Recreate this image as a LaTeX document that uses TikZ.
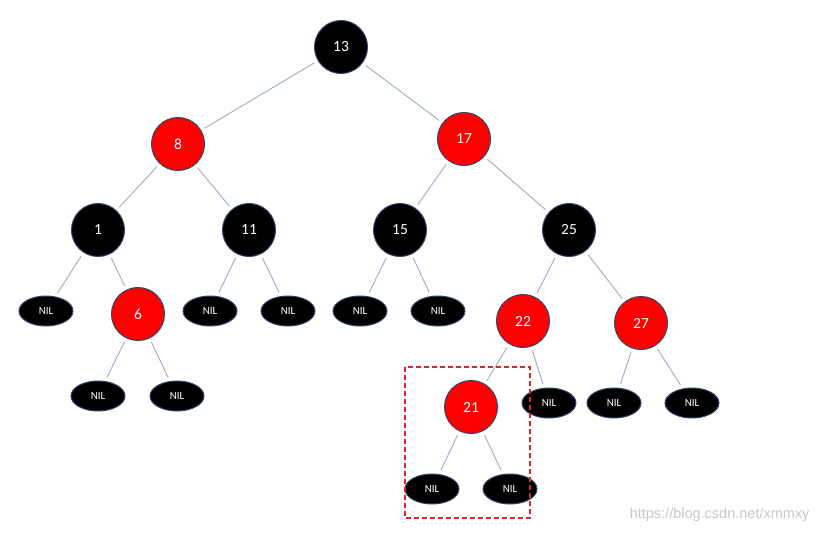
\documentclass[tikz,border=0pt]{standalone}
\usepackage{fontspec}
\setmainfont{Carlito}
\newfontfamily\wmfont{Liberation Sans}
\usetikzlibrary{shapes.geometric}
\definecolor{edgec}{HTML}{A3B2C8}
\definecolor{rimc}{HTML}{34456A}
\definecolor{redc}{HTML}{FF0000}
\definecolor{boxc}{HTML}{D9262B}
\begin{document}
\begin{tikzpicture}[x=1pt,y=-1pt,
  blk/.style={circle,fill=black,draw=rimc,line width=1pt,minimum size=53pt,inner sep=0pt,text=white,font=\fontsize{15.5}{15.5}\selectfont},
  rd/.style={circle,fill=redc,draw=rimc,line width=1pt,minimum size=53pt,inner sep=0pt,text=white,font=\fontsize{15.5}{15.5}\selectfont},
  nil/.style={ellipse,fill=black,draw=rimc,line width=1pt,minimum width=54pt,minimum height=30pt,inner sep=0pt,text=white,font=\fontsize{11}{11}\selectfont},
  edge/.style={draw=edgec,line width=1pt,shorten <=4pt,shorten >=4pt}]
\useasboundingbox (0,0) rectangle (822,533);
\node[blk] (n13) at (341,47) {13};
\node[rd]  (n8)  at (178,144) {8};
\node[rd]  (n17) at (464,139) {17};
\node[blk] (n1)  at (98,230) {1};
\node[blk] (n11) at (249,230) {11};
\node[blk] (n15) at (400,230) {15};
\node[blk] (n25) at (569,230) {25};
\node[nil] (a1) at (46,311) {NIL};
\node[rd]  (n6) at (138,314) {6};
\node[nil] (a2) at (210,311) {NIL};
\node[nil] (a3) at (288,311) {NIL};
\node[nil] (a4) at (360,311) {NIL};
\node[nil] (a5) at (438,311) {NIL};
\node[rd]  (n22) at (523,321) {22};
\node[rd]  (n27) at (641,323) {27};
\node[nil] (a6) at (98,396) {NIL};
\node[nil] (a7) at (177,396) {NIL};
\node[rd]  (n21) at (471,407) {21};
\node[nil] (a8) at (549,403) {NIL};
\node[nil] (a9) at (614,403) {NIL};
\node[nil] (a10) at (692,403) {NIL};
\node[nil] (a11) at (432,489) {NIL};
\node[nil] (a12) at (510,489) {NIL};
\foreach \p/\c in {n13/n8,n13/n17,n8/n1,n8/n11,n17/n15,n17/n25,n1/a1,n1/n6,n11/a2,n11/a3,n15/a4,n15/a5,n25/n22,n25/n27,n6/a6,n6/a7,n22/n21,n22/a8,n27/a9,n27/a10,n21/a11,n21/a12}
  \path[edge] (\p) -- (\c);
\coordinate (b1) at (405,367);
\coordinate (b2) at (530,518);
\draw[boxc,line width=1.4pt,dash pattern=on 5pt off 3pt] (b1) rectangle (b2);
\node[text=black!22,font=\wmfont\fontsize{14.5}{14.5}\selectfont,anchor=east] (wm) at (813,515) {https://blog.csdn.net/xmmxy};
\end{tikzpicture}
\end{document}
